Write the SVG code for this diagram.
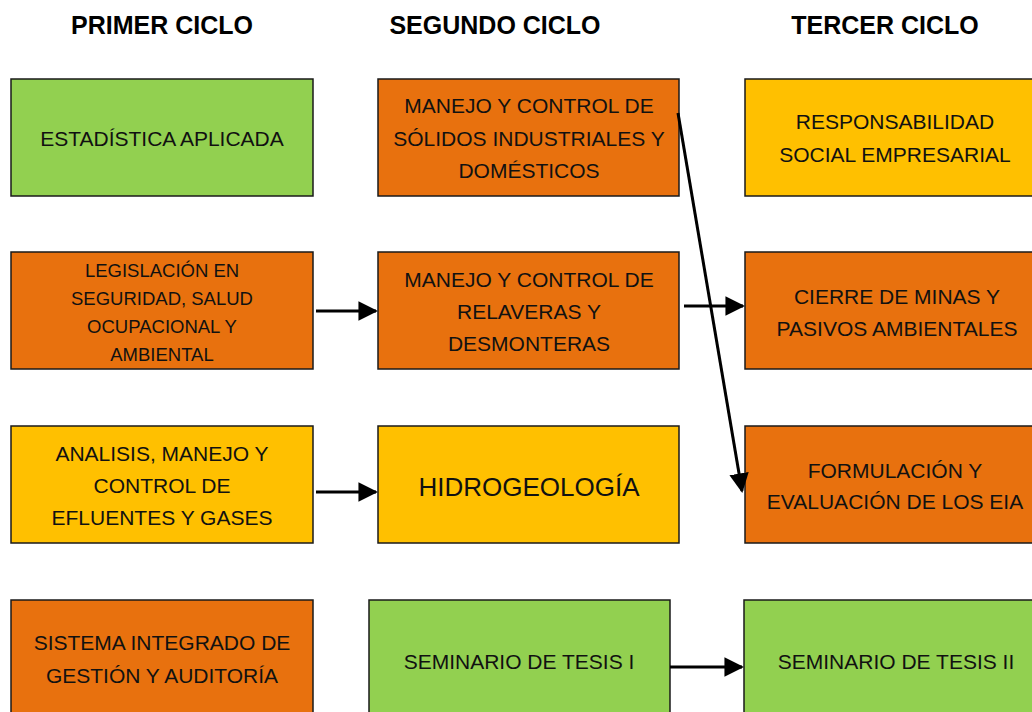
<svg xmlns="http://www.w3.org/2000/svg" width="1032" height="712" viewBox="0 0 1032 712">
<defs>
<style>
.box{stroke:#1a1a1a;stroke-width:1.5}
.g{fill:#92D050}.o{fill:#E8710E}.y{fill:#FFC000}
text{font-family:"Liberation Sans",Arial,sans-serif;fill:#111;text-anchor:middle;font-size:21px}
.h{font-weight:bold;font-size:25px;fill:#000}
.s{font-size:18.5px}
.big{font-size:26px}
.c{stroke:#000;stroke-width:3;fill:none;marker-end:url(#ah)}
</style>
<marker id="ah" viewBox="0 0 10 10" refX="9" refY="5" markerWidth="6.5" markerHeight="6.5" orient="auto" markerUnits="strokeWidth">
<path d="M0,0 L10,5 L0,10 z" fill="#000"/>
</marker>
</defs>
<rect width="1032" height="712" fill="#fff"/>
<g id="headers">
<text class="h" x="162" y="34">PRIMER CICLO</text>
<text class="h" x="495" y="34">SEGUNDO CICLO</text>
<text class="h" x="885" y="34">TERCER CICLO</text>
</g>
<g id="n1"><rect class="box g" x="11" y="79" width="302" height="117"/><text x="162" y="146">ESTADÍSTICA APLICADA</text></g>
<g id="n2"><rect class="box o" x="378" y="79" width="301" height="117"/><text x="529" y="113">MANEJO Y CONTROL DE</text><text x="529" y="146">SÓLIDOS INDUSTRIALES Y</text><text x="529" y="178">DOMÉSTICOS</text></g>
<g id="n3"><rect class="box y" x="745" y="79" width="300" height="117"/><text x="895" y="129">RESPONSABILIDAD</text><text x="895" y="162">SOCIAL EMPRESARIAL</text></g>
<g id="n4"><rect class="box o" x="11" y="252" width="302" height="117"/><text class="s" x="162" y="277">LEGISLACIÓN EN</text><text class="s" x="162" y="305">SEGURIDAD, SALUD</text><text class="s" x="162" y="333">OCUPACIONAL Y</text><text class="s" x="162" y="361">AMBIENTAL</text></g>
<g id="n5"><rect class="box o" x="378" y="252" width="301" height="117"/><text x="529" y="287">MANEJO Y CONTROL DE</text><text x="529" y="319">RELAVERAS Y</text><text x="529" y="351">DESMONTERAS</text></g>
<g id="n6"><rect class="box o" x="745" y="252" width="300" height="117"/><text x="897" y="304">CIERRE DE MINAS Y</text><text x="897" y="336">PASIVOS AMBIENTALES</text></g>
<g id="n7"><rect class="box y" x="11" y="426" width="302" height="117"/><text x="162" y="461">ANALISIS, MANEJO Y</text><text x="162" y="493">CONTROL DE</text><text x="162" y="525">EFLUENTES Y GASES</text></g>
<g id="n8"><rect class="box y" x="378" y="426" width="301" height="117"/><text class="big" x="529" y="496">HIDROGEOLOGÍA</text></g>
<g id="n9"><rect class="box o" x="745" y="426" width="300" height="117"/><text x="895" y="478">FORMULACIÓN Y</text><text x="895" y="509">EVALUACIÓN DE LOS EIA</text></g>
<g id="n10"><rect class="box o" x="11" y="600" width="302" height="130"/><text x="162" y="650">SISTEMA INTEGRADO DE</text><text x="162" y="683">GESTIÓN Y AUDITORÍA</text></g>
<g id="n11"><rect class="box g" x="369" y="600" width="301" height="130"/><text x="519" y="669">SEMINARIO DE TESIS I</text></g>
<g id="n12"><rect class="box g" x="744" y="600" width="300" height="130"/><text x="896" y="669">SEMINARIO DE TESIS II</text></g>
<g id="connectors">
<line class="c" x1="316" y1="311" x2="376" y2="311"/>
<line class="c" x1="684" y1="306" x2="743" y2="306"/>
<line class="c" x1="316" y1="492" x2="376" y2="492"/>
<line class="c" x1="678" y1="113" x2="742" y2="491"/>
<line class="c" x1="670" y1="667" x2="742" y2="667"/>
</g>
</svg>
